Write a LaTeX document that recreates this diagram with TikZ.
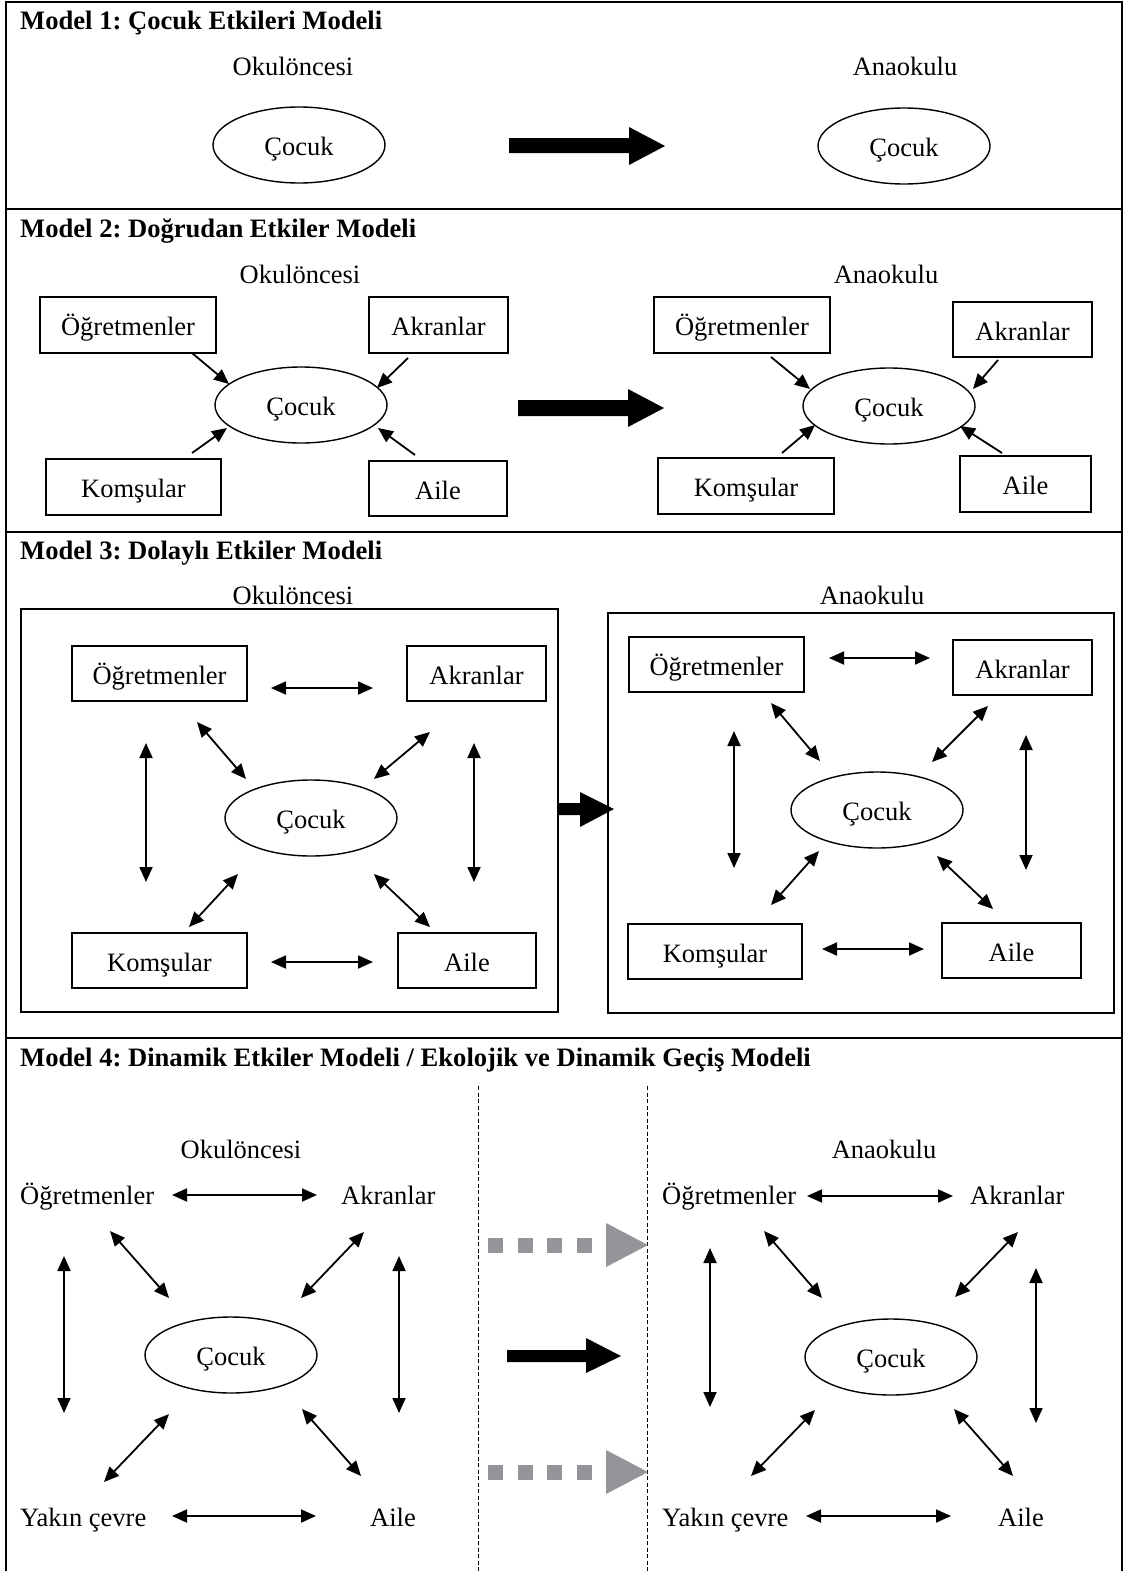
\documentclass[tikz,border=0pt]{standalone}
\usepackage{fontspec}
\setmainfont{Liberation Serif}
\frenchspacing
\usetikzlibrary{arrows.meta,shapes.geometric}
\definecolor{dotgray}{RGB}{148,149,152}
\begin{document}
\begin{tikzpicture}[x=1pt,y=-1pt,
  txt/.style={font=\fontsize{26.5}{30}\selectfont, inner sep=0pt, text height=21pt, text depth=0pt},
  ttl/.style={font=\fontsize{26.6}{30}\selectfont\bfseries, inner sep=0pt, text height=21pt, text depth=0pt, anchor=west},
  box/.style={txt, draw, line width=1.4pt, inner sep=0pt},
  kid/.style={txt, draw, ellipse, line width=1.4pt, minimum width=172pt, minimum height=76pt, inner sep=0pt},
  one/.style={line width=1.8pt, -{Triangle[length=15pt,width=13pt]}},
  dbl/.style={line width=1.8pt, {Triangle[length=15pt,width=13pt]}-{Triangle[length=15pt,width=13pt]}},
  frame/.style={line width=2pt},
  sq/.style={fill=dotgray}
]
\useasboundingbox (0,0) rectangle (1125,1571);

% outer frame and section dividers
\draw[frame] (6,1571) -- (6,2) -- (1122,2) -- (1122,1571);
\draw[frame] (6,209) -- (1122,209);
\draw[frame] (6,532) -- (1122,532);
\draw[frame] (6,1038) -- (1122,1038);

% ---------------- Model 1 ----------------
\node[ttl] (t1) at (20,19) {Model 1: Çocuk Etkileri Modeli};
\node[txt] (p1) at (293,65) {Okulöncesi};
\node[txt] (a1) at (905,65) {Anaokulu};
\node[kid] (c1L) at (299,145) {Çocuk};
\node[kid] (c1R) at (904,146) {Çocuk};
\fill (509,138) -- (629,138) -- (629,127) -- (665,146) -- (629,165) -- (629,153) -- (509,153) -- cycle;

% ---------------- Model 2 ----------------
\node[ttl] (t2) at (20,227) {Model 2: Doğrudan Etkiler Modeli};
\node[txt] (p2) at (300,273) {Okulöncesi};
\node[txt] (a2) at (886,273) {Anaokulu};

\node[box, minimum width=176pt, minimum height=56pt] (o2L) at (128,325) {Öğretmenler};
\node[box, minimum width=139pt, minimum height=56pt] (k2L) at (438.5,325) {Akranlar};
\node[kid] (c2L) at (301,405) {Çocuk};
\node[box, minimum width=175pt, minimum height=56pt] (m2L) at (133.5,487) {Komşular};
\node[box, minimum width=138pt, minimum height=55pt] (f2L) at (438,488.5) {Aile};
\draw[one] (192,353) -- (229,384);
\draw[one] (408,358) -- (377,388);
\draw[one] (192,453) -- (227,428);
\draw[one] (415,455) -- (378,428);

\fill (518,400) -- (628,400) -- (628,389) -- (664,408) -- (628,427) -- (628,416) -- (518,416) -- cycle;

\node[box, minimum width=176pt, minimum height=56pt] (o2R) at (742,325) {Öğretmenler};
\node[box, minimum width=139pt, minimum height=55pt] (k2R) at (1022.5,329.5) {Akranlar};
\node[kid] (c2R) at (889,406) {Çocuk};
\node[box, minimum width=176pt, minimum height=56pt] (m2R) at (746,486) {Komşular};
\node[box, minimum width=131pt, minimum height=56pt] (f2R) at (1025.5,484) {Aile};
\draw[one] (771,357) -- (810,389);
\draw[one] (998,360) -- (973,389);
\draw[one] (782,453) -- (815,425);
\draw[one] (1002,453) -- (960,426);

% ---------------- Model 3 ----------------
\node[ttl] (t3) at (20,549) {Model 3: Dolaylı Etkiler Modeli};
\node[txt] (p3) at (293,593.5) {Okulöncesi};
\node[txt] (a3) at (872,593.5) {Anaokulu};
\draw[line width=1.4pt] (21,609) rectangle (558,1012);
\draw[line width=1.4pt] (608,613) rectangle (1114,1013);
\fill (559,803) -- (580,803) -- (580,792) -- (614,809) -- (580,827) -- (580,815) -- (559,815) -- cycle;

\node[box, minimum width=175pt, minimum height=55pt] (o3L) at (159.5,673.5) {Öğretmenler};
\node[box, minimum width=139pt, minimum height=55pt] (k3L) at (476.5,673.5) {Akranlar};
\node[kid] (c3L) at (311,818) {Çocuk};
\node[box, minimum width=175pt, minimum height=55pt] (m3L) at (159.5,960.5) {Komşular};
\node[box, minimum width=138pt, minimum height=55pt] (f3L) at (467,960.5) {Aile};
\draw[dbl] (271,688) -- (373,688);
\draw[dbl] (271,962) -- (373,962);
\draw[dbl] (146,743) -- (146,882);
\draw[dbl] (474,743) -- (474,882);
\draw[dbl] (197,722) -- (246,779);
\draw[dbl] (430,732) -- (374,779);
\draw[dbl] (238,874) -- (189,927);
\draw[dbl] (374,874) -- (430,927);

\node[box, minimum width=175pt, minimum height=55pt] (o3R) at (716.5,664.5) {Öğretmenler};
\node[box, minimum width=139pt, minimum height=55pt] (k3R) at (1022.5,667.5) {Akranlar};
\node[kid] (c3R) at (877,810) {Çocuk};
\node[box, minimum width=174pt, minimum height=55pt] (m3R) at (715,951.5) {Komşular};
\node[box, minimum width=139pt, minimum height=55pt] (f3R) at (1011.5,950.5) {Aile};
\draw[dbl] (829,658) -- (930,658);
\draw[dbl] (822,949) -- (924,949);
\draw[dbl] (734,731) -- (734,868);
\draw[dbl] (1026,735) -- (1026,870);
\draw[dbl] (771,703) -- (820,761);
\draw[dbl] (988,706) -- (932,762);
\draw[dbl] (819,851) -- (771,905);
\draw[dbl] (937,856) -- (993,909);

% ---------------- Model 4 ----------------
\node[ttl] (t4) at (20,1056) {Model 4: Dinamik Etkiler Modeli / Ekolojik ve Dinamik Geçiş Modeli};
\draw[line width=0.8pt, dash pattern=on 4pt off 2.5pt] (478,1086) -- (478,1571);
\draw[line width=0.8pt, dash pattern=on 4pt off 2.5pt] (647,1086) -- (647,1571);

\node[txt] (p4) at (241,1148) {Okulöncesi};
\node[txt, anchor=west] (o4L) at (20,1194) {Öğretmenler};
\node[txt, anchor=west] (k4L) at (341,1194) {Akranlar};
\node[kid] (c4L) at (231,1355) {Çocuk};
\node[txt, anchor=west] (y4L) at (20,1516) {Yakın çevre};
\node[txt, anchor=west] (f4L) at (370,1516) {Aile};
\draw[dbl] (172,1195) -- (317,1195);
\draw[dbl] (172,1516) -- (316,1516);
\draw[dbl] (64,1256) -- (64,1413);
\draw[dbl] (399,1256) -- (399,1413);
\draw[dbl] (110,1231) -- (169,1298);
\draw[dbl] (364,1232) -- (301,1298);
\draw[dbl] (169,1414) -- (104,1482);
\draw[dbl] (302,1409) -- (361,1476);

% transition arrows between the two panels
\foreach \yy in {1245,1472}{
  \foreach \xx in {488,518,547,577}{
    \fill[sq] (\xx,\yy-7.5) rectangle ++(14.5,15);
  }
  \fill[dotgray] (606,\yy-22) -- (648,\yy) -- (606,\yy+22) -- cycle;
}
\fill (507,1350) -- (586,1350) -- (586,1338) -- (621,1356) -- (586,1373) -- (586,1362) -- (507,1362) -- cycle;

\node[txt] (a4) at (884,1148) {Anaokulu};
\node[txt, anchor=west] (o4R) at (662,1194) {Öğretmenler};
\node[txt, anchor=west] (k4R) at (970,1194) {Akranlar};
\node[kid] (c4R) at (891,1357) {Çocuk};
\node[txt, anchor=west] (y4R) at (662,1516) {Yakın çevre};
\node[txt, anchor=west] (f4R) at (998,1516) {Aile};
\draw[dbl] (807,1196) -- (953,1196);
\draw[dbl] (806,1516) -- (951,1516);
\draw[dbl] (710,1248) -- (710,1407);
\draw[dbl] (1036,1268) -- (1036,1423);
\draw[dbl] (764,1231) -- (822,1298);
\draw[dbl] (1018,1232) -- (955,1297);
\draw[dbl] (815,1410) -- (751,1476);
\draw[dbl] (954,1409) -- (1013,1476);
\end{tikzpicture}
\end{document}
